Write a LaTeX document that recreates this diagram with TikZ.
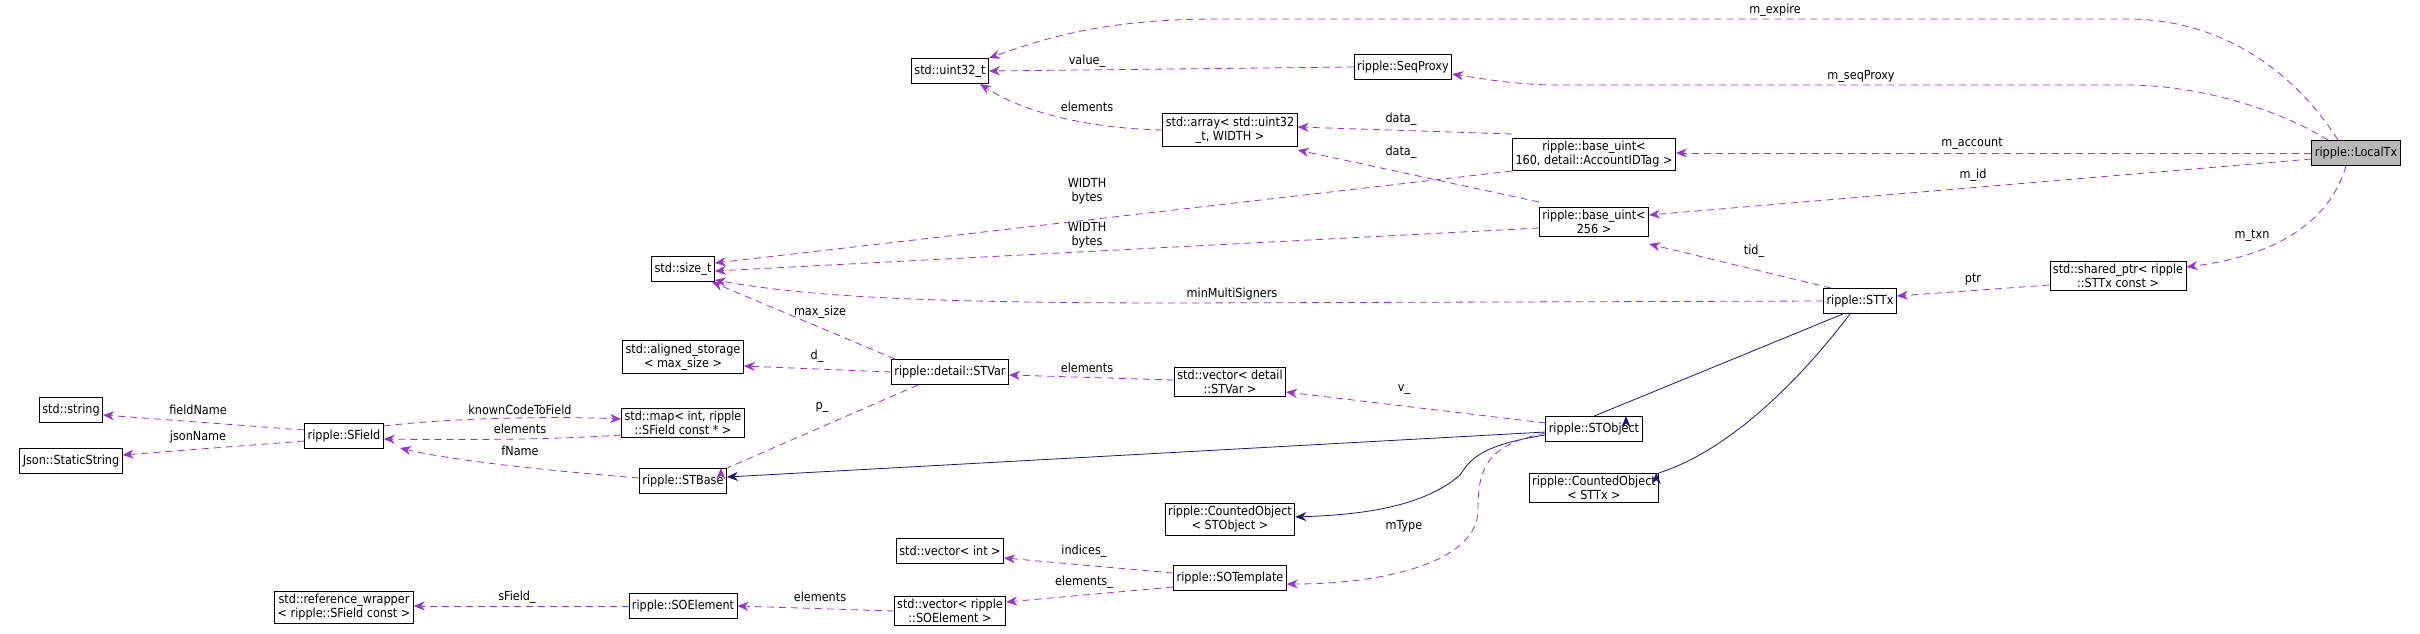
\documentclass[tikz,border=0pt]{standalone}
\usepackage{fontspec}
\setmainfont{DejaVu Sans Condensed}
\usetikzlibrary{arrows.meta}
\definecolor{memb}{HTML}{9A32CD}
\definecolor{inh}{HTML}{191970}
\begin{document}
\begin{tikzpicture}[x=1pt,y=-1pt,
    box/.style={draw, thick, fill=white, align=center, inner sep=3pt, minimum height=25pt,
      font=\fontsize{12.5}{14}\selectfont},
    lbl/.style={font=\fontsize{12.5}{14}\selectfont, align=center},
    use/.style={memb, dashed, dash pattern=on 7pt off 5pt, thick, -{Stealth[length=11pt,width=9pt]}},
    isa/.style={inh, thick, -{Stealth[length=11pt,width=9pt]}}]
    \useasboundingbox (0,0) rectangle (2420,633);

    % classes
    \node[box, fill=gray!55] (localtx) at (2356,153) {ripple::LocalTx};
    \node[box] (sharedptr) at (2118,276) {std::shared\_ptr< ripple\\::STTx const >};
    \node[box] (sttx) at (1860,301) {ripple::STTx};
    \node[box] (uint32) at (950,71) {std::uint32\_t};
    \node[box] (seqproxy) at (1403,67) {ripple::SeqProxy};
    \node[box] (array) at (1230,130) {std::array< std::uint32\\\_t, WIDTH >};
    \node[box] (base160) at (1594,154) {ripple::base\_uint<\\ 160, detail::AccountIDTag >};
    \node[box] (base256) at (1594,222) {ripple::base\_uint<\\256 >};
    \node[box] (stvar) at (950,372) {ripple::detail::STVar};
    \node[box] (vecstvar) at (1230,382) {std::vector< detail\\::STVar >};
    \node[box] (stobject) at (1594,429) {ripple::STObject};
    \node[box] (cntsttx) at (1594,488) {ripple::CountedObject\\< STTx >};
    \node[box] (cntstobj) at (1230,519) {ripple::CountedObject\\< STObject >};
    \node[box] (sotemplate) at (1230,578) {ripple::SOTemplate};
    \node[box] (vecint) at (950,551) {std::vector< int >};
    \node[box] (vecsoe) at (950,611) {std::vector< ripple\\::SOElement >};
    \node[box] (sizet) at (683,269) {std::size\_t};
    \node[box] (aligned) at (683,357) {std::aligned\_storage\\< max\_size >};
    \node[box] (map) at (683,423) {std::map< int, ripple\\::SField const * >};
    \node[box] (stbase) at (683,481) {ripple::STBase};
    \node[box] (sfield) at (344,436) {ripple::SField};
    \node[box] (string) at (71,410) {std::string};
    \node[box] (staticstr) at (71,461) {Json::StaticString};
    \node[box] (soelement) at (683,606) {ripple::SOElement};
    \node[box] (refwrap) at (344,607) {std::reference\_wrapper\\< ripple::SField const >};

    % members of LocalTx
    \draw[use] (localtx.north) ++(-18,0) .. controls (2300,80) and (2230,19) .. (2127,19)
        -- (1217,19) .. controls (1100,19) and (1040,40) .. (uint32.north east);
    \node[lbl] at (1775,10) {m\_expire};
    \draw[use] (localtx.north) ++(-28,0) .. controls (2280,110) and (2200,85) .. (2127,85)
        -- (1560,85) .. controls (1520,85) and (1490,80) .. (seqproxy.east|-0,74);
    \node[lbl] at (1861,76) {m\_seqProxy};
    \draw[use] (localtx.west) -- (base160.east|-localtx.west);
    \node[lbl] at (1972,144) {m\_account};
    \draw[use] (localtx.west|-0,159) -- (base256.east|-0,215);
    \node[lbl] at (1973,175) {m\_id};
    \draw[use] (localtx.south) ++(-10,0) .. controls (2330,220) and (2280,255) .. (sharedptr.east|-0,267);
    \node[lbl] at (2252,236) {m\_txn};
    \draw[use] (sharedptr.west|-0,285) -- (sttx.east|-0,296);
    \node[lbl] at (1973,279) {ptr};

    % STTx and friends
    \draw[use] (sttx.north west) ++(8,0) -- (base256.south east|-0,244);
    \node[lbl] at (1754,251) {tid\_};
    \draw[use] (sttx.west) -- (1180,303) .. controls (900,303) and (800,295) .. (sizet.east|-0,280);
    \node[lbl] at (1232,294) {minMultiSigners};
    \draw[use] (base160.west|-0,171) -- (sizet.east|-0,263);
    \node[lbl] at (1087,191) {WIDTH\\bytes};
    \draw[use] (base256.west|-0,228) -- (sizet.east|-0,271);
    \node[lbl] at (1087,235) {WIDTH\\bytes};
    \draw[use] (base160.west|-0,134) -- (array.east|-0,127);
    \node[lbl] at (1401,119) {data\_};
    \draw[use] (base256.west|-0,202) -- (array.south east|-0,150);
    \node[lbl] at (1401,152) {data\_};
    \draw[use] (array.west) .. controls (1080,128) and (1020,110) .. (980,84);
    \node[lbl] at (1087,107) {elements};
    \draw[use] (seqproxy.west) -- (uint32.east);
    \node[lbl] at (1087,61) {value\_};

    % STObject side
    \draw[use] (stobject.north west|-0,423) -- (vecstvar.east|-0,392);
    \node[lbl] at (1404,390) {v\_};
    \draw[use] (vecstvar.west|-0,380) -- (stvar.east|-0,375);
    \node[lbl] at (1087,368) {elements};
    \draw[use] (stvar.north west) ++(4,0) -- (712,282);
    \node[lbl] at (820,312) {max\_size};
    \draw[use] (stvar.west) -- (aligned.east|-0,366);
    \node[lbl] at (817,356) {d\_};
    \draw[use] (918,385) -- (stbase.north east) ++(-6,0);
    \node[lbl] at (822,407) {p\_};
    \draw[use] (stbase.west|-0,478) .. controls (540,470) and (450,460) .. (400,448);
    \node[lbl] at (520,451) {fName};
    \draw[use] (sfield.east|-0,426) .. controls (450,418) and (550,416) .. (map.west|-0,419);
    \node[lbl] at (520,410) {knownCodeToField};
    \draw[use] (map.west|-0,435) .. controls (550,440) and (450,440) .. (sfield.east|-0,439);
    \node[lbl] at (520,429) {elements};
    \draw[use] (sfield.west|-0,430) -- (string.east|-0,415);
    \node[lbl] at (198,410) {fieldName};
    \draw[use] (sfield.west|-0,441) -- (staticstr.east|-0,455);
    \node[lbl] at (198,437) {jsonName};

    % inheritance
    \draw[isa] (stobject.west|-0,432) -- (stbase.east|-0,477);
    \draw[isa] (sttx.south west) ++(20,0) -- (stobject.north) ++(32,0);
    \draw[isa] (sttx.south) ++(-10,0) .. controls (1800,380) and (1730,450) .. (cntsttx.north east) ++(-3,0);
    \draw[isa] (stobject.west|-0,435) .. controls (1480,445) and (1470,460) .. (1460,475)
        .. controls (1420,510) and (1350,515) .. (cntstobj.east|-0,517);

    % SOTemplate side
    \draw[use] (stobject.west|-0,433) .. controls (1485,445) and (1478,470) .. (1478,510)
        .. controls (1478,560) and (1390,584) .. (sotemplate.east|-0,584);
    \node[lbl] at (1404,526) {mType};
    \draw[use] (sotemplate.west|-0,573) -- (vecint.east|-0,558);
    \node[lbl] at (1084,551) {indices\_};
    \draw[use] (sotemplate.west|-0,587) -- (vecsoe.east|-0,602);
    \node[lbl] at (1084,582) {elements\_};
    \draw[use] (vecsoe.west) -- (soelement.east);
    \node[lbl] at (820,597) {elements};
    \draw[use] (soelement.west) -- (refwrap.east|-soelement.west);
    \node[lbl] at (517,597) {sField\_};
\end{tikzpicture}
\end{document}
